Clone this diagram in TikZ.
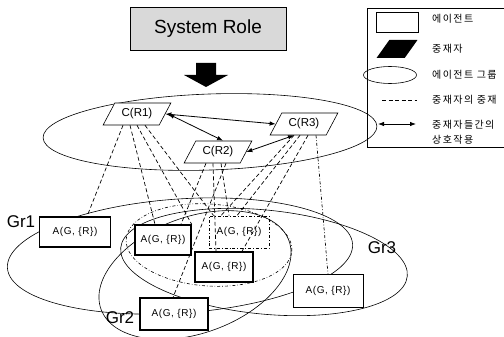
\documentclass[tikz,border=0pt]{standalone}
\usepackage{fontspec}
\setmainfont{Liberation Sans}
\newfontfamily\krfont{Noto Sans CJK KR}[LetterSpace=14]
\newfontfamily\agfont{Liberation Sans}[LetterSpace=6]
\usetikzlibrary{positioning,arrows.meta,shapes.geometric,calc}

\begin{document}
\begin{tikzpicture}[x=1pt,y=-1pt,
		agent/.style={draw,fill=white,line width=1.1pt,minimum height=30pt,inner sep=1pt,font=\agfont\fontsize{10}{12}\selectfont},
		med/.style={trapezium,trapezium left angle=56,trapezium right angle=124,trapezium stretches=true,draw,fill=white,line width=0.6pt,minimum width=68pt,minimum height=22pt,inner sep=1pt,font=\fontsize{11.5}{13}\selectfont},
		grp/.style={ellipse,draw,line width=0.6pt,inner sep=0pt},
		glabel/.style={font=\fontsize{17}{19}\selectfont,inner sep=0pt},
		medln/.style={dash pattern=on 4pt off 2.5pt,line width=0.7pt},
		ar/.style={{Latex[length=6pt,width=4.5pt]}-{Latex[length=6pt,width=4.5pt]},line width=0.8pt},
		legtext/.style={anchor=west,inner sep=0pt,font=\krfont\fontsize{10}{12}\selectfont}
		]
		\clip (0,0) rectangle (504,337);

		% system role and block arrow
		\node[draw,fill=gray!30,line width=0.8pt,minimum width=156pt,minimum height=43pt,font=\fontsize{19}{21}\selectfont] (role) at (208,29) {System Role};
		\fill (196,63) -- (216,63) -- (216,75) -- (228,75) -- (206,87) -- (184,75) -- (196,75) -- cycle;

		% legend
		\node[draw,line width=0.9pt,minimum width=143pt,minimum height=139pt,inner sep=0pt] (legend) at (438.5,77.5) {};
		\node[draw,line width=0.6pt,minimum width=42pt,minimum height=20pt,inner sep=0pt] (legagent) at (397,22) {};
		\node[trapezium,trapezium left angle=50,trapezium right angle=130,trapezium stretches=true,fill=black,minimum width=41pt,minimum height=18pt,inner sep=1pt] (legmed) at (397,49) {};
		\node[grp,minimum width=53pt,minimum height=17pt] (leggrp) at (390,75) {};
		\coordinate (legd1) at (382,100);
		\coordinate (legd2) at (417,100);
		\coordinate (lega1) at (378,124);
		\coordinate (lega2) at (416,124);
		\draw[medln] (legd1) -- (legd2);
		\draw[ar] (lega1) -- (lega2);
		\node[legtext] (lt1) at (432,19) {에이전트};
		\node[legtext] (lt2) at (432,49) {중재자};
		\node[legtext] (lt3) at (432,75) {에이전트 그룹};
		\node[legtext] (lt4) at (432,100) {중재자의 중재};
		\node[legtext] (lt5) at (432,125) {중재자들간의};
		\node[legtext] (lt6) at (432,140) {상호작용};

		% role group and mediators
		\node[grp,minimum width=334pt,minimum height=76pt,rotate=2] (rolegrp) at (210,132) {};
		\node[med] (r1) at (137,114) {C(R1)};
		\node[med] (r2) at (218,152) {C(R2)};
		\node[med] (r3) at (304,124) {C(R3)};

		\draw[ar] (r1.east) -- (r3.west);
		\draw[ar] ([xshift=3pt]r1.east) -- ([xshift=5pt]r2.north);
		\draw[ar] (r2.east) -- ([xshift=-10pt]r3.south);

		% agent groups
		\node[grp,minimum width=346pt,minimum height=114pt,rotate=4] (gr1) at (180,256) {};
		\node[grp,minimum width=288pt,minimum height=104pt,rotate=-5.7] (gr3) at (264,262) {};
		\node[grp,minimum width=200pt,minimum height=116pt,rotate=20] (gr2) at (195,275) {};
		\node[grp,dash dot,minimum width=166pt,minimum height=82pt,rotate=-4] (inner) at (209,245) {};
		\node[glabel] (gr1lab) at (21,222) {Gr1};
		\node[glabel] (gr2lab) at (120,318) {Gr2};
		\node[glabel] (gr3lab) at (382,248) {Gr3};

		% agents
		\node[agent,minimum width=71pt] (a1) at (75,232) {A(G, \{R\})};
		\node[agent,minimum width=56pt,line width=1.4pt] (a2) at (163,240) {A(G, \{R\})};
		\node[agent,minimum width=58pt,line width=1.4pt] (a4) at (224,267) {A(G, \{R\})};
		\node[agent,fill=none,minimum width=60pt,minimum height=32pt,line width=0.8pt,dash dot] (a3) at (239,232) {A(G, \{R\})};
		\node[agent,minimum width=68pt,minimum height=32pt] (a5) at (174,314) {A(G, \{R\})};
		\node[agent,minimum width=70pt,minimum height=33pt,line width=0.9pt] (a6) at (328,291) {A(G, \{R\})};

		% mediation lines
		\draw[medln] ([xshift=-14pt]r1.south) -- ([xshift=12pt]a1.north);
		\draw[medln] ([xshift=-7pt]r1.south) -- ([xshift=-8pt]a2.north);
		\draw[medln] (r1.south) -- (a2.north east);
		\draw[medln] ([xshift=8pt]r1.south) -- ([xshift=5pt]a3.north west);
		\draw[medln] ([xshift=-12pt]r2.south) -- ([xshift=18pt]a2.north);
		\draw[medln] ([xshift=-5pt]r2.south) -- ([xshift=-8pt]a4.north);
		\draw[medln] ([xshift=3pt]r2.south) -- ([xshift=-10pt]a3.north);
		\draw[medln] ([xshift=8pt]r2.south) -- ([xshift=-1pt]a5.north);
		\draw[medln] ([xshift=-10pt]r3.south) -- ([xshift=-18pt]a3.north);
		\draw[medln] ([xshift=-4pt]r3.south) -- ([xshift=-2pt]a3.north);
		\draw[medln] ([xshift=4pt]r3.south) -- ([xshift=18pt]a4.north);
		\draw[medln,dash dot] ([xshift=12pt]r3.south) -- (a6.north);

	\end{tikzpicture}
\end{document}
